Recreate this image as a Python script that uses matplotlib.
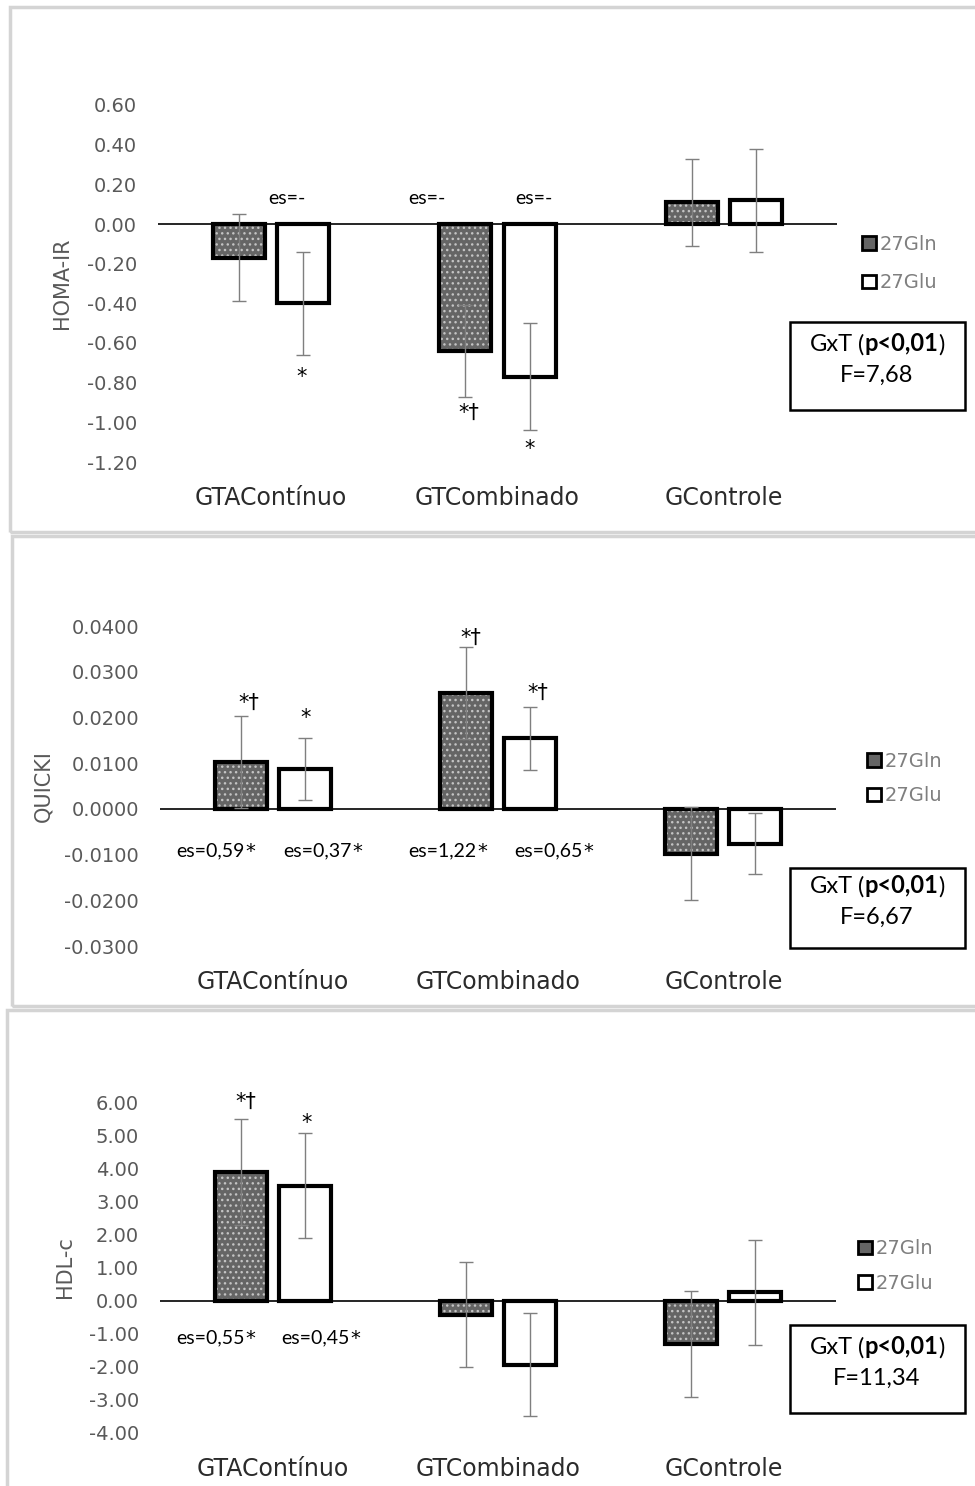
import matplotlib
matplotlib.use("Agg")
import matplotlib.pyplot as plt
import numpy as np
from matplotlib.patches import Rectangle, Patch
from matplotlib.offsetbox import TextArea, HPacker, VPacker, DrawingArea, AnnotationBbox

# groups and series
groups = ['GTAContínuo', 'GTCombinado', 'GControle']
series = ['27Gln', '27Glu']

homa_gln = [-0.17, -0.64, 0.11]
homa_gln_err = [0.22, 0.23, 0.22]
homa_glu = [-0.40, -0.77, 0.12]
homa_glu_err = [0.26, 0.27, 0.26]

quicki_gln = [0.0103, 0.0254, -0.0098]
quicki_gln_err = [0.0101, 0.0101, 0.0101]
quicki_glu = [0.0087, 0.0154, -0.0076]
quicki_glu_err = [0.0068, 0.0068, 0.0067]

hdl_gln = [3.89, -0.43, -1.31]
hdl_gln_err = [1.61, 1.59, 1.60]
hdl_glu = [3.47, -1.94, 0.25]
hdl_glu_err = [1.58, 1.56, 1.58]

homa_ticks = [0.60, 0.40, 0.20, 0.00, -0.20, -0.40, -0.60, -0.80, -1.00, -1.20]
quicki_ticks = [0.04, 0.03, 0.02, 0.01, 0.0, -0.01, -0.02, -0.03]
hdl_ticks = [6, 5, 4, 3, 2, 1, 0, -1, -2, -3, -4]

# significance / effect size labels
homa_notes = ['es=-', 'es=-', 'es=-', '*', '*†', '*']
quicki_notes = ['*†', '*', '*†', '*†', 'es=0,59*', 'es=0,37*', 'es=1,22*', 'es=0,65*']
hdl_notes = ['*†', '*', 'es=0,55*', 'es=0,45*']

homa_stats = ('p<0,01', 'F=7,68')
quicki_stats = ('p<0,01', 'F=6,67')
hdl_stats = ('p<0,01', 'F=11,34')

W, H = 975, 1486
fig = plt.figure(figsize=(W / 100, H / 100), dpi=100)


def fx(px):
    return px / W


def fy(py):
    return 1 - py / H


TXT = ['Lato', 'DejaVu Sans']
MARK = ['DejaVu Sans']
GRAY = '#595959'
FILL = '#656565'

# light frames around each chart
for x0, y0, y1 in [(10, 7, 532), (12, 536, 1006), (7, 1010, 1500)]:
    fig.add_artist(Rectangle((fx(x0), fy(y1)), fx(1100 - x0), (y1 - y0) / H,
                             transform=fig.transFigure, fill=False,
                             edgecolor='#d4d4d4', linewidth=2.5))


def panel(left, right, top, bottom, ylim, ticks, tickfmt, ylabel, lab_x,
          gln, gln_err, glu, glu_err, notes, note_pos, stats, leg_x, leg_y,
          leg_space, box_top, box_bot):
    ax = fig.add_axes([fx(left), fy(bottom), (right - left) / W, (bottom - top) / H])
    x = np.arange(len(groups))
    w = 0.23
    off = 0.142
    ax.bar(x - off, gln, w, color=FILL, hatch='...', edgecolor='#c4c4c4',
           linewidth=0, zorder=2)
    ax.bar(x - off, gln, w, fill=False, edgecolor='black', linewidth=3, zorder=3)
    ax.bar(x + off, glu, w, color='white', edgecolor='black', linewidth=3, zorder=3)
    ax.errorbar(x - off, gln, yerr=gln_err, fmt='none', ecolor='#7f7f7f',
                elinewidth=1, capsize=5, capthick=1, zorder=4)
    ax.errorbar(x + off, glu, yerr=glu_err, fmt='none', ecolor='#7f7f7f',
                elinewidth=1, capsize=5, capthick=1, zorder=4)
    ax.axhline(0, color='black', linewidth=1.2, zorder=1)

    ax.set_xlim(-0.5, 2.5)
    ax.set_ylim(*ylim)
    ax.set_yticks(ticks)
    ax.set_yticklabels([tickfmt.format(t) for t in ticks])
    ax.tick_params(axis='y', length=0, pad=15, labelsize=14, labelcolor=GRAY)
    ax.set_xticks(x)
    ax.set_xticklabels(groups)
    ax.tick_params(axis='x', length=0, pad=17, labelsize=17, labelcolor='#2b2b2b')
    for s in ax.spines.values():
        s.set_visible(False)
    ax.patch.set_alpha(0)
    ax.set_ylabel(ylabel, fontsize=15, color=GRAY)
    ax.yaxis.set_label_coords(lab_x, 0.5)

    for t, (px, py) in zip(notes, note_pos):
        if t.startswith('es') and t.endswith('*'):
            # effect size text with a full-size asterisk appended
            base = ax.text(px - 0.02, py, t[:-1], ha='center', va='baseline',
                           fontsize=14, family=TXT, color='black', zorder=5)
            ax.annotate('*', xy=(1, 0), xycoords=base, xytext=(0.5, -1),
                        textcoords='offset points', ha='left', va='bottom',
                        fontsize=14, family=MARK, color='black', zorder=5)
        elif t.startswith('es'):
            ax.text(px, py, t, ha='center', va='baseline', fontsize=14,
                    family=TXT, color='black', zorder=5)
        else:
            ax.text(px, py, t, ha='center', va='baseline', fontsize=15,
                    family=MARK, color='black', zorder=5)

    handles = [Patch(facecolor=FILL, edgecolor='black', linewidth=2),
               Patch(facecolor='white', edgecolor='black', linewidth=2)]
    fig.legend(handles, series, loc='center left',
               bbox_to_anchor=(fx(leg_x), fy(leg_y)), frameon=False,
               fontsize=14, labelcolor='#7f7f7f', handlelength=0.7,
               handleheight=0.7, handletextpad=0.2, labelspacing=leg_space,
               borderpad=0, borderaxespad=0)

    # GxT box
    fig.add_artist(Rectangle((fx(790), fy(box_bot)), 175 / W, (box_bot - box_top) / H,
                             transform=fig.transFigure, facecolor='white',
                             edgecolor='black', linewidth=1.8, zorder=6))
    tp = dict(fontsize=17, family=TXT, color='black')
    line1 = HPacker(children=[TextArea('GxT', textprops=tp), DrawingArea(4, 1),
                              TextArea('(', textprops=tp),
                              TextArea(stats[0], textprops=dict(tp, fontweight='bold')),
                              TextArea(')', textprops=tp)],
                    pad=0, sep=0, align='baseline')
    line2 = TextArea(stats[1], textprops=tp)
    pack = VPacker(children=[line1, line2], align='center', pad=0, sep=7)
    ab = AnnotationBbox(pack, (fx(877), fy((box_top + box_bot) / 2 - 7)),
                        xycoords='figure fraction', frameon=False,
                        box_alignment=(0.5, 0.5), zorder=7)
    fig.add_artist(ab)
    return ax


panel(158, 837, 105, 462, (-1.2, 0.6), homa_ticks, '{:.2f}', 'HOMA-IR', -0.127,
      homa_gln, homa_gln_err, homa_glu, homa_glu_err, homa_notes,
      [(0.071, 0.10), (0.69, 0.10), (1.159, 0.10),
       (0.135, -0.80), (0.872, -0.985), (1.142, -1.167)],
      homa_stats, 862, 263.5, 1.0, 322, 410)

panel(160, 836, 626, 946, (-0.03, 0.04), quicki_ticks, '{:.4f}', 'QUICKI', -0.158,
      quicki_gln, quicki_gln_err, quicki_glu, quicki_glu_err, quicki_notes,
      [(-0.105, 0.0219), (0.144, 0.0186), (0.880, 0.0361), (1.178, 0.0240),
       (-0.256, -0.0105), (0.219, -0.0105), (0.774, -0.0105), (1.244, -0.0105)],
      quicki_stats, 867, 778.5, 0.8, 868, 948)

panel(160, 836, 1102, 1433, (-4, 6), hdl_ticks, '{:.2f}', 'HDL-c', -0.126,
      hdl_gln, hdl_gln_err, hdl_glu, hdl_glu_err, hdl_notes,
      [(-0.118, 5.81), (0.152, 5.18), (-0.256, -1.30), (0.210, -1.30)],
      hdl_stats, 858, 1266, 0.8, 1325, 1413)

fig.savefig('out.png', dpi=100)
